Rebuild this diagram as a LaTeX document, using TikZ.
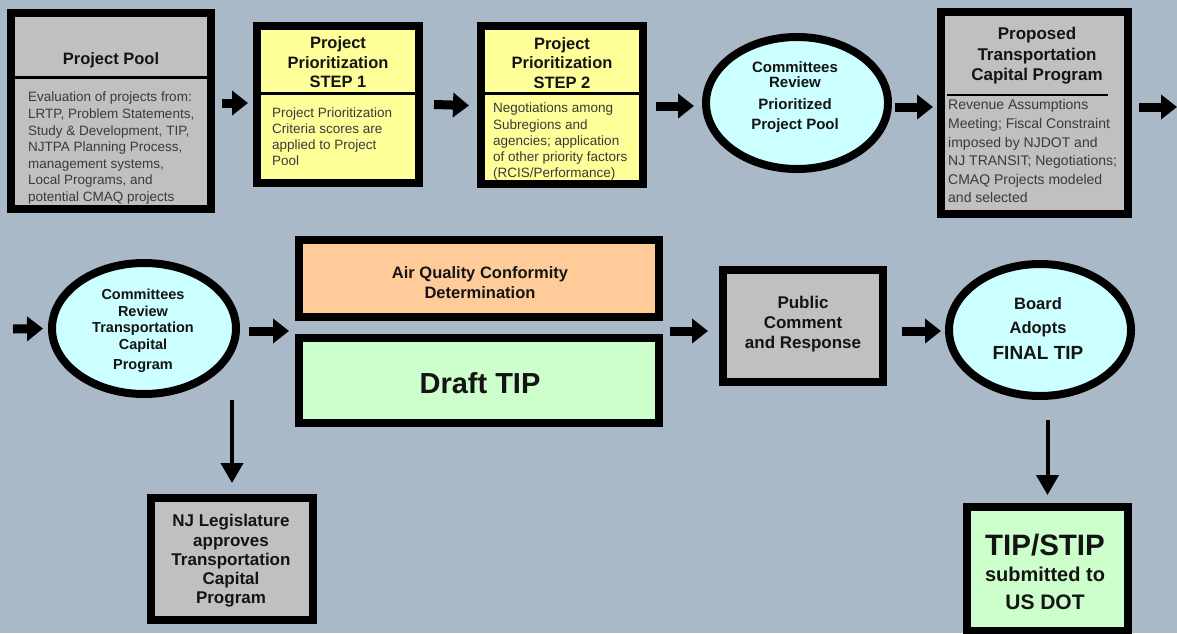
\documentclass[tikz,border=0pt]{standalone}
\usepackage{fontspec}
\setmainfont{Liberation Sans}
\usetikzlibrary{shapes.geometric,arrows.meta}
\definecolor{bgc}{HTML}{A9B9C8}
\definecolor{grayF}{HTML}{C0C0C0}
\definecolor{yelF}{HTML}{FFFF99}
\definecolor{cyanF}{HTML}{CCFFFF}
\definecolor{oraF}{HTML}{FFCC99}
\definecolor{grnF}{HTML}{CCFFCC}
\definecolor{txt}{HTML}{141414}
\definecolor{bodytxt}{HTML}{3A3A3A}
\newcommand\myfs[2]{\fontsize{#1}{#2}\selectfont}
\tikzset{
  box/.style={draw=black, line width=8pt, rectangle, inner sep=0pt},
  oval/.style={draw=black, line width=8pt, ellipse, inner sep=0pt, fill=cyanF},
  harrow/.style={line width=9pt, -{Triangle[length=16pt,width=24pt]}},
  varrow/.style={line width=4pt, -{Triangle[length=20pt,width=22pt]}},
  ttl/.style={font=\bfseries\myfs{16.5}{19.5}, align=center, inner sep=0pt, text=txt},
  body/.style={font=\myfs{13.5}{16.6}, align=left, inner sep=0pt, text=bodytxt, anchor=north west},
  divider/.style={line width=3pt},
}
\begin{document}
\begin{tikzpicture}[x=1pt,y=-1pt]
\useasboundingbox (0,0) rectangle (1177,633);
\fill[bgc] (0,0) rectangle (1177,633);
\clip (0,0) rectangle (1177,633);

% ---------- top row ----------
\node[box, fill=grayF, minimum width=200pt, minimum height=196pt] (pp) at (111,111) {};
\draw[divider] (15,77) -- (207,77);
\node[ttl] (ppT) at (111,60) {Project Pool};
\node[body] (ppB) at (28,92) {Evaluation of projects from:\\LRTP, Problem Statements,\\Study \& Development, TIP,\\NJTPA Planning Process,\\management systems,\\Local Programs, and\\potential CMAQ projects};

\node[box, fill=yelF, minimum width=162pt, minimum height=157pt] (s1) at (338,104.5) {};
\draw[divider] (261,93) -- (415,93);
\node[ttl] (s1T) at (338,62.5) {Project\\Prioritization\\STEP 1};
\node[body, font=\myfs{13.5}{15.7}] (s1B) at (272,108) {Project Prioritization\\Criteria scores are\\applied to Project\\Pool};

\node[box, fill=yelF, minimum width=162pt, minimum height=158pt] (s2) at (562,105) {};
\draw[divider] (485,93) -- (639,93);
\node[ttl] (s2T) at (562,63) {Project\\Prioritization\\STEP 2};
\node[body, font=\myfs{13.5}{16.25}] (s2B) at (493,103) {Negotiations among\\Subregions and\\agencies; application\\of other priority factors\\(RCIS/Performance)};

\node[oval, minimum width=182pt, minimum height=132pt] (e1) at (797,103) {};
\node[ttl, font=\bfseries\myfs{15}{15.5}] (e1T) at (795,97) {Committees\\Review\\[6.5pt]Prioritized\\[4.5pt]Project Pool};

\node[box, fill=grayF, minimum width=187pt, minimum height=202pt] (prop) at (1034.5,113) {};
\draw[line width=2.5pt] (947,95) -- (1108,95);
\node[ttl, font=\bfseries\myfs{17}{20.5}] (propT) at (1037,56) {Proposed\\Transportation\\Capital Program};
\node[body, font=\myfs{14}{18.6}] (propB) at (948,99.5) {Revenue Assumptions\\Meeting; Fiscal Constraint\\imposed by NJDOT and\\NJ TRANSIT; Negotiations;\\CMAQ Projects modeled\\and selected};

% ---------- second row ----------
\node[oval, minimum width=184pt, minimum height=131pt] (e2) at (144,328.5) {};
\node[ttl, font=\bfseries\myfs{14.5}{16.5}] (e2T) at (143,331) {Committees\\Review\\Transportation\\Capital\\[3.5pt]Program};

\node[box, fill=oraF, minimum width=360pt, minimum height=77pt] (aq) at (479,278.5) {};
\node[ttl, font=\bfseries\myfs{16.5}{20}] (aqT) at (480,283) {Air Quality Conformity\\Determination};

\node[box, fill=grnF, minimum width=360pt, minimum height=85pt] (dt) at (479,380.5) {};
\node[ttl, font=\bfseries\myfs{29}{30}] (dtT) at (480,383) {Draft TIP};

\node[box, fill=grayF, minimum width=160pt, minimum height=112pt] (pub) at (803,326) {};
\node[ttl, font=\bfseries\myfs{17}{20}] (pubT) at (803,324) {Public\\Comment\\and Response};

\node[oval, minimum width=182pt, minimum height=132pt] (fin) at (1040,330) {};
\node[ttl, anchor=base, font=\bfseries\myfs{16.5}{18}] (finA) at (1038,309) {Board};
\node[ttl, anchor=base, font=\bfseries\myfs{16.5}{18}] (finB) at (1038,333) {Adopts};
\node[ttl, anchor=base, font=\bfseries\myfs{19}{20}] (finC) at (1038,359) {FINAL TIP};

% ---------- bottom row ----------
\node[box, fill=grayF, minimum width=162pt, minimum height=122pt] (nj) at (232,559) {};
\node[ttl, font=\bfseries\myfs{17}{19.25}] (njT) at (231,561) {NJ Legislature\\approves\\Transportation\\Capital\\Program};

\node[box, fill=grnF, minimum width=161pt, minimum height=124pt] (tb) at (1047.5,569) {};
\node[ttl, anchor=base, font=\bfseries\myfs{29.5}{30}] (tbA) at (1045,555.5) {TIP/STIP};
\node[ttl, anchor=base, font=\bfseries\myfs{20}{22}] (tbB) at (1045,581) {submitted to};
\node[ttl, anchor=base, font=\bfseries\myfs{21}{22}] (tbC) at (1045,609.5) {US DOT};

% ---------- connectors ----------
\coordinate (outR) at (1177,107);
\coordinate (inL) at (13,329);
\coordinate (mid1) at (289,331);
\coordinate (mid2) at (670,331);
\coordinate (v1s) at (232,400);
\coordinate (v2s) at (1047.5,420);

\draw[harrow] ([xshift=7pt,yshift=8pt]pp.east) -- ([xshift=-5pt,yshift=1.5pt]s1.west);
\draw[harrow] ([xshift=11pt]s1.east) -- ([xshift=-8pt,yshift=-0.5pt]s2.west);
\draw[harrow] ([xshift=9pt,yshift=-1pt]s2.east) -- ([xshift=-8pt,yshift=-3pt]e1.west);
\draw[harrow] ([xshift=3pt,yshift=-4pt]e1.east) -- ([xshift=-4pt,yshift=6pt]prop.west);
\draw[harrow] ([xshift=7pt,yshift=6pt]prop.east) -- (outR);
\draw[harrow] (inL) -- ([xshift=-5pt]e2.west);
\draw[harrow] ([xshift=9pt,yshift=-2.5pt]e2.east) -- (mid1);
\draw[harrow] (mid2) -- ([xshift=-11pt,yshift=-5pt]pub.west);
\draw[harrow] ([xshift=15pt,yshift=-5pt]pub.east) -- ([xshift=-4pt,yshift=-1pt]fin.west);
\draw[varrow] (v1s) -- ([yshift=11pt]nj.north);
\draw[varrow] (v2s) -- ([yshift=8pt]tb.north);
\end{tikzpicture}
\end{document}
